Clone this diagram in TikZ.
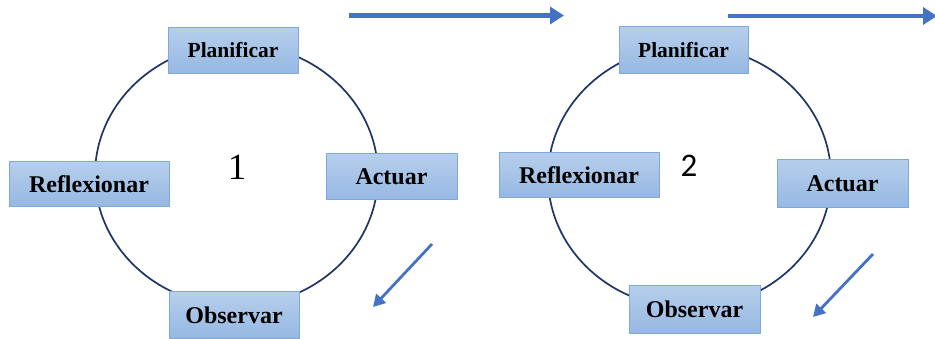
\documentclass[tikz,border=0pt]{standalone}
\usepackage{fontspec}
\setmainfont{Liberation Serif}
\newfontfamily\carlitofont{Carlito}
\usetikzlibrary{arrows.meta}
\definecolor{ringcol}{HTML}{1F3564}
\definecolor{arrowcol}{HTML}{4472C4}
\definecolor{boxtop}{HTML}{B6CEEC}
\definecolor{boxbot}{HTML}{96B8E2}
\definecolor{boxline}{HTML}{7FA8DC}
\tikzset{
  stagebox/.style={rectangle, draw=boxline, line width=1pt, top color=boxtop, bottom color=boxbot,
    minimum height=46pt, inner sep=0pt, font=\fontsize{24}{24}\selectfont\bfseries},
  smallstage/.style={stagebox, font=\fontsize{21.5}{21.5}\selectfont\bfseries},
  ring/.style={draw=ringcol, line width=1.7pt},
  flow/.style={draw=arrowcol, line width=4.3pt, -{Triangle[length=14pt,width=17pt]}},
}
\begin{document}
\begin{tikzpicture}[x=1pt,y=-1pt]
\useasboundingbox (0,0) rectangle (935,339);
% cycle centres
\coordinate (c1) at (236.5,175);
\coordinate (c2) at (689.5,177);
\draw[ring] (c1) ellipse [x radius=141.5pt, y radius=131pt];
\draw[ring] (c2) ellipse [x radius=141.5pt, y radius=131pt];
% cycle 1
\node[smallstage, minimum width=130pt] (plan1) at (233,50.5) {Planificar};
\node[stagebox, minimum width=131pt] (act1) at (391.5,177) {Actuar};
\node[stagebox, minimum width=160pt, minimum height=45pt] (refl1) at (89,184.5) {Reflexionar};
\node[stagebox, minimum width=130pt] (obs1) at (234,315) {Observar};
\node[font=\fontsize{37}{37}\selectfont] (n1) at (237,167) {1};
% cycle 2
\node[smallstage, minimum width=129pt, minimum height=47pt] (plan2) at (683.5,50.5) {Planificar};
\node[stagebox, minimum width=131pt, minimum height=48pt] (act2) at (842.5,184) {Actuar};
\node[stagebox, minimum width=160pt, minimum height=45pt] (refl2) at (579,175.5) {Reflexionar};
\node[stagebox, minimum width=131pt, minimum height=47pt] (obs2) at (694.5,309.5) {Observar};
\node[font=\carlitofont\fontsize{33}{33}\selectfont] (n2) at (689,166) {2};
% arrows
\coordinate (a1s) at (349,15.5);
\coordinate (a1e) at (564,15.5);
\coordinate (a2s) at (728,16);
\coordinate (a2e) at (937,16);
\coordinate (d1s) at (432,244);
\coordinate (d1e) at (373,307);
\coordinate (d2s) at (873,254);
\coordinate (d2e) at (813,317);
\draw[flow] (a1s) -- (a1e);
\draw[flow] (a2s) -- (a2e);
\draw[flow, line width=2.8pt, -{Triangle[length=12pt,width=13pt]}] (d1s) -- (d1e);
\draw[flow, line width=2.8pt, -{Triangle[length=12pt,width=13pt]}] (d2s) -- (d2e);
\end{tikzpicture}
\end{document}
